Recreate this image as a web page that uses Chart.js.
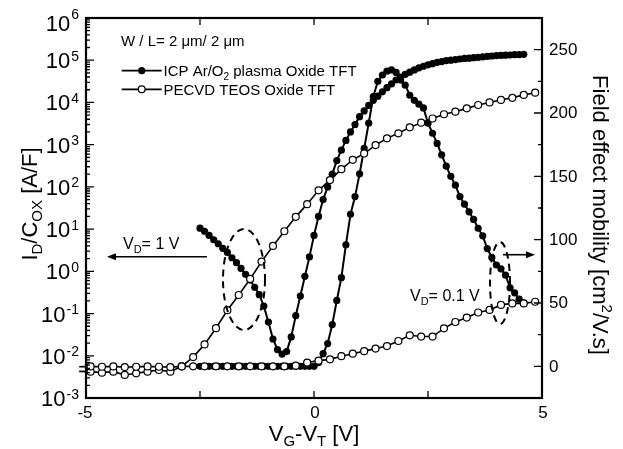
<!DOCTYPE html>
<html>
<head>
<meta charset="utf-8">
<script src="https://cdn.jsdelivr.net/npm/chart.js@4.4.0/dist/chart.umd.min.js"></script>
<style>
  html, body { margin: 0; padding: 0; background: #fff; }
  #chart { display: block; }
</style>
</head>
<body>
<canvas id="chart" width="623" height="449"></canvas>
<script>
// ICP Ar/O2 plasma oxide TFT (filled symbols), x = VG - VT [V]
const icpVoltage = [
  -2.5, -2.4, -2.3, -2.2, -2.1, -2.0, -1.9, -1.8, -1.7, -1.6, -1.5, -1.4, -1.3,
  -1.2, -1.1, -1.0, -0.9, -0.8, -0.7, -0.6, -0.5, -0.4, -0.3, -0.2, -0.1,
  0.0, 0.1, 0.2, 0.3, 0.4, 0.5, 0.6, 0.7, 0.8, 0.9, 1.0, 1.1, 1.2, 1.3, 1.4,
  1.5, 1.6, 1.7, 1.8, 1.9, 2.0, 2.1, 2.2, 2.3, 2.4, 2.5, 2.6, 2.7, 2.8, 2.9,
  3.0, 3.1, 3.2, 3.3, 3.4, 3.5, 3.6, 3.7, 3.8, 3.9, 4.0, 4.1, 4.2, 4.3, 4.4,
  4.5, 4.6
];
// ID/Cox [A/F] at VD = 1 V (left log axis)
const icpCurrent = [
  10.5, 8.9, 7.1, 5.6, 4.5, 3.5, 2.8, 2.1, 1.6, 1.17, 0.85, 0.62, 0.42,
  0.28, 0.15, 0.063, 0.025, 0.014, 0.011, 0.0126, 0.028, 0.089, 0.26, 0.76, 2.2,
  7.1, 20, 50, 100, 200, 420, 740, 1260, 2000, 3000, 4600, 6300, 8500, 11200, 14100,
  17800, 22400, 27500, 34000, 40000, 46000, 52000, 59000, 66000, 72000, 78000, 83000, 89000, 93000, 98000,
  100000, 103000, 107000, 110000, 112000, 115000, 117000, 120000, 123000, 126000, 129000, 130000, 132000, 133000, 135000,
  136000, 138000
];
// field effect mobility [cm2/V.s] at VD = 0.1 V (right axis)
const icpMobility = [
  0, 0, 0, 0, 0, 0, 0, 0, 0, 0, 0, 0, 0,
  0, 0, 0, 0, 0, 0, 0, 0, 0, 0, 0, 0,
  0, 3, 10, 18, 33, 52, 70, 96, 120, 134, 152, 172, 192, 213, 225,
  230, 233, 234, 232, 226, 222, 214, 210, 207, 204, 192, 184, 176, 167, 158,
  150, 143, 134, 128, 122, 116, 109, 103, 93, 86, 80, 77, 72, 62, 58,
  53, 50
];

// PECVD TEOS oxide TFT (open symbols)
const teosVoltage = [
  -5.15, -4.9, -4.65, -4.4, -4.15, -3.9, -3.65, -3.4, -3.15, -2.9,
  -2.65, -2.4, -2.15, -1.9, -1.65, -1.4, -1.15, -0.9, -0.65, -0.4,
  -0.15, 0.1, 0.35, 0.6, 0.85, 1.1, 1.35, 1.6, 1.85, 2.1,
  2.35, 2.6, 2.85, 3.1, 3.35, 3.6, 3.85, 4.1, 4.35, 4.6, 4.85
];
const teosCurrent = [
  0.0055, 0.0056, 0.0055, 0.0056, 0.0054, 0.0055, 0.0056, 0.0055, 0.0054, 0.0056,
  0.0093, 0.0186, 0.045, 0.12, 0.275, 0.66, 1.7, 4.0, 8.9, 19.5,
  39, 83, 145, 263, 437, 617, 977, 1410, 1860, 2570,
  3310, 4170, 5250, 6030, 7240, 8710, 10000, 11500, 12900, 15100, 17000
];
const teosMobility = [
  -4, -4.2, -5, -4.2, -6.8, -5.5, -4.2, -2.9, -4.2, 0,
  0, 0, 0, 0, 0, 0, 0, 0, 0, 0.5,
  3, 4.5, 5.5, 8, 10, 12, 14, 16, 20, 24.5,
  23.5, 23.5, 30, 35, 38.5, 42.5, 44.5, 48.5, 49.7, 49.7, 51
];

// axis ticks
const xTicks = [-5, 0, 5];
const xMajorMarks = [-2.5, 0, 2.5];
const logExponents = [-3, -2, -1, 0, 1, 2, 3, 4, 5, 6];
const mobTicks = [0, 50, 100, 150, 200, 250];
const mobMinor = [25, 75, 125, 175, 225];

const FONT = '"Liberation Sans", Arial, Helvetica, sans-serif';

function toPoints(xs, ys) {
  return xs.map((x, i) => ({ x: x, y: ys[i] }));
}

function textWidth(ctx, parts) {
  let w = 0;
  for (const p of parts) {
    ctx.font = p.size + "px " + FONT;
    w += ctx.measureText(p.t).width;
  }
  return w;
}

// draw text made of pieces (for sub/superscripts)
function drawRich(ctx, parts, x, y, align) {
  const w = textWidth(ctx, parts);
  let cx = x;
  if (align === "center") cx = x - w / 2;
  if (align === "right") cx = x - w;
  ctx.textAlign = "left";
  for (const p of parts) {
    ctx.font = p.size + "px " + FONT;
    ctx.fillText(p.t, cx, y + (p.dy || 0));
    cx += ctx.measureText(p.t).width;
  }
}

function dashedEllipse(ctx, cx, cy, rx, ry) {
  ctx.save();
  ctx.setLineDash([7, 5]);
  ctx.lineWidth = 2;
  ctx.beginPath();
  ctx.ellipse(cx, cy, rx, ry, 0, 0, Math.PI * 2);
  ctx.stroke();
  ctx.restore();
}

function arrow(ctx, x1, y, x2) {
  const dir = x2 > x1 ? 1 : -1;
  ctx.lineWidth = 1.6;
  ctx.beginPath();
  ctx.moveTo(x1, y);
  ctx.lineTo(x2 - dir * 6, y);
  ctx.stroke();
  ctx.beginPath();
  ctx.moveTo(x2, y);
  ctx.lineTo(x2 - dir * 9, y - 3.5);
  ctx.lineTo(x2 - dir * 9, y + 3.5);
  ctx.closePath();
  ctx.fill();
}

const axesPlugin = {
  id: "axesPlugin",
  afterDatasetsDraw(chart) {
    const ctx = chart.ctx;
    const area = chart.chartArea;
    const xs = chart.scales.x;
    const yl = chart.scales.yLog;
    const yr = chart.scales.yMob;
    ctx.save();
    ctx.strokeStyle = "#000";
    ctx.fillStyle = "#000";

    // frame
    ctx.lineWidth = 2.2;
    ctx.strokeRect(area.left, area.top, area.right - area.left, area.bottom - area.top);

    // inward tick marks
    ctx.lineWidth = 1.3;
    ctx.beginPath();
    for (const e of logExponents) {
      const y = yl.getPixelForValue(Math.pow(10, e));
      ctx.moveTo(area.left, y);
      ctx.lineTo(area.left + 8, y);
      if (e < 6) {
        for (let k = 2; k <= 9; k++) {
          const ym = yl.getPixelForValue(k * Math.pow(10, e));
          ctx.moveTo(area.left, ym);
          ctx.lineTo(area.left + 4, ym);
        }
      }
    }
    for (const m of mobTicks) {
      const y = yr.getPixelForValue(m);
      ctx.moveTo(area.right, y);
      ctx.lineTo(area.right - 8, y);
    }
    for (const m of mobMinor) {
      const y = yr.getPixelForValue(m);
      ctx.moveTo(area.right, y);
      ctx.lineTo(area.right - 4, y);
    }
    for (const v of xMajorMarks) {
      const x = xs.getPixelForValue(v);
      ctx.moveTo(x, area.bottom);
      ctx.lineTo(x, area.bottom - 7);
      ctx.moveTo(x, area.top);
      ctx.lineTo(x, area.top + 7);
    }
    ctx.stroke();

    // left tick labels 10^n
    ctx.textBaseline = "alphabetic";
    for (const e of logExponents) {
      const y = yl.getPixelForValue(Math.pow(10, e));
      const exp = String(e);
      ctx.font = "14px " + FONT;
      const ew = ctx.measureText(exp).width;
      ctx.textAlign = "right";
      ctx.fillText(exp, 79, y + 0.5);
      ctx.font = "22px " + FONT;
      ctx.fillText("10", 79 - ew - 1, y + (e === 6 ? 13 : 8));
    }

    // right tick labels
    ctx.font = "17px " + FONT;
    ctx.textAlign = "left";
    ctx.textBaseline = "middle";
    for (const m of mobTicks) {
      ctx.fillText(String(m), 549, yr.getPixelForValue(m) + 0.5);
    }

    // bottom tick labels
    ctx.textAlign = "center";
    for (const v of xTicks) {
      ctx.fillText(String(v), xs.getPixelForValue(v) + (v < 0 ? -1 : 1), 413);
    }

    // axis titles
    ctx.textBaseline = "alphabetic";
    drawRich(ctx, [
      { t: "V", size: 22 }, { t: "G", size: 15, dy: 5 },
      { t: "-V", size: 22 }, { t: "T", size: 15, dy: 5 },
      { t: " [V]", size: 22 }
    ], (area.left + area.right) / 2, 441, "center");

    ctx.save();
    ctx.translate(37, 204);
    ctx.rotate(-Math.PI / 2);
    drawRich(ctx, [
      { t: "I", size: 22 }, { t: "D", size: 15, dy: 5 },
      { t: "/C", size: 22 }, { t: "OX", size: 15, dy: 5 },
      { t: " [A/F]", size: 22 }
    ], 0, 0, "center");
    ctx.restore();

    ctx.save();
    ctx.translate(593, 215);
    ctx.rotate(Math.PI / 2);
    drawRich(ctx, [
      { t: "Field effect mobility [cm", size: 22 },
      { t: "2", size: 15, dy: -9 },
      { t: "/V.s]", size: 22 }
    ], 0, 0, "center");
    ctx.restore();

    // device size and legend
    ctx.font = "15px " + FONT;
    ctx.textAlign = "left";
    ctx.fillText("W / L= 2 \u03bcm/ 2 \u03bcm", 121, 46);

    ctx.lineWidth = 1.8;
    ctx.beginPath();
    ctx.moveTo(121.7, 70.7);
    ctx.lineTo(161.7, 70.7);
    ctx.moveTo(121.7, 89.3);
    ctx.lineTo(161.7, 89.3);
    ctx.stroke();
    ctx.beginPath();
    ctx.arc(141.7, 70.7, 3.6, 0, Math.PI * 2);
    ctx.fill();
    ctx.beginPath();
    ctx.arc(141.7, 89.3, 3.4, 0, Math.PI * 2);
    ctx.fillStyle = "#fff";
    ctx.fill();
    ctx.lineWidth = 1.2;
    ctx.stroke();
    ctx.fillStyle = "#000";

    drawRich(ctx, [
      { t: "ICP Ar/O", size: 15 }, { t: "2", size: 10, dy: 4 },
      { t: " plasma Oxide TFT", size: 15 }
    ], 163.5, 76, "left");
    drawRich(ctx, [{ t: "PECVD TEOS Oxide TFT", size: 15 }], 163.5, 94.6, "left");

    // VD annotations
    drawRich(ctx, [
      { t: "V", size: 16 }, { t: "D", size: 11, dy: 4 }, { t: "= 1 V", size: 16 }
    ], 123, 249, "left");
    arrow(ctx, 207, 256.7, 107);
    dashedEllipse(ctx, 244, 279.5, 21, 50.5);

    drawRich(ctx, [
      { t: "V", size: 16 }, { t: "D", size: 11, dy: 4 }, { t: "= 0.1 V", size: 16 }
    ], 410, 301, "left");
    arrow(ctx, 503, 254.7, 535);
    dashedEllipse(ctx, 500, 283, 10, 41);

    ctx.restore();
  }
};

const openStyle = {
  borderColor: "#000",
  borderWidth: 1.6,
  pointRadius: 3.5,
  pointBackgroundColor: "#fff",
  pointBorderColor: "#000",
  pointBorderWidth: 1.2,
  clip: { left: 10, right: 2, top: 2, bottom: 2 }
};
const filledStyle = {
  borderColor: "#000",
  borderWidth: 2,
  pointRadius: 3.6,
  pointBackgroundColor: "#000",
  pointBorderColor: "#000",
  pointBorderWidth: 0,
  clip: 2
};

new Chart(document.getElementById("chart"), {
  type: "line",
  data: {
    datasets: [
      Object.assign({ label: "PECVD TEOS Oxide TFT (ID/Cox)", data: toPoints(teosVoltage, teosCurrent), yAxisID: "yLog" }, openStyle),
      Object.assign({ label: "PECVD TEOS Oxide TFT (mobility)", data: toPoints(teosVoltage, teosMobility), yAxisID: "yMob" }, openStyle),
      Object.assign({ label: "ICP Ar/O2 plasma Oxide TFT (ID/Cox)", data: toPoints(icpVoltage, icpCurrent), yAxisID: "yLog" }, filledStyle),
      Object.assign({ label: "ICP Ar/O2 plasma Oxide TFT (mobility)", data: toPoints(icpVoltage, icpMobility), yAxisID: "yMob" }, filledStyle)
    ]
  },
  options: {
    responsive: false,
    animation: false,
    layout: { padding: { left: 86, right: 81, top: 18, bottom: 51 } },
    plugins: { legend: { display: false }, tooltip: { enabled: false } },
    scales: {
      x: { type: "linear", min: -5, max: 5, display: false },
      yLog: { type: "logarithmic", position: "left", min: 1e-3, max: 1e6, display: false },
      yMob: { type: "linear", position: "right", min: -25, max: 275, display: false }
    }
  },
  plugins: [axesPlugin]
});
</script>
</body>
</html>
